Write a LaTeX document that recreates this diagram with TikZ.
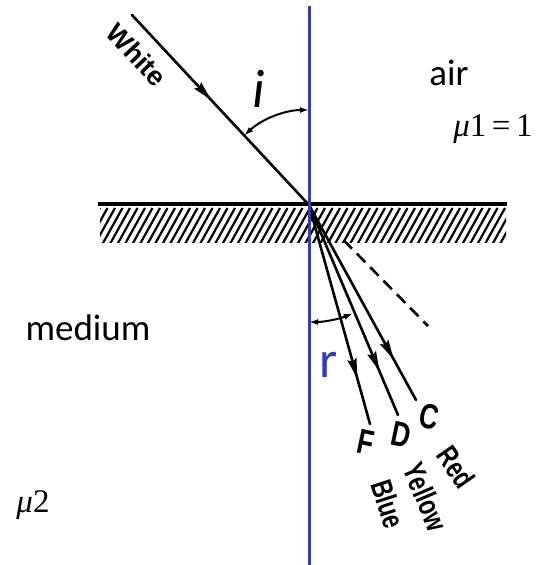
\documentclass[tikz,border=0pt]{standalone}
\usepackage{fontspec}
\setmainfont{Carlito}
\newfontfamily\raysfont{Liberation Sans}
\newfontfamily\tagsfont[FakeStretch=0.75]{Liberation Sans}
\newfontfamily\greekfont{Liberation Serif}
\usetikzlibrary{arrows.meta,calc,decorations.markings}
\definecolor{normalblue}{RGB}{50,60,190}
\tikzset{
  raystyle/.style={line width=2.6pt, line cap=round},
  midarrow/.style={postaction={decorate}, decoration={markings, mark=at position #1 with {\fill (7pt,0pt) -- (-13pt,4.8pt) -- (-10pt,0pt) -- (-13pt,-4.8pt) -- cycle;}}},
  anglearc/.style={line width=2pt, {Latex[length=9pt,width=6pt]}-{Latex[length=9pt,width=6pt]}},
  medlabel/.style={font=\fontsize{37}{40}\selectfont, inner sep=0pt},
  mathlabel/.style={font=\greekfont\fontsize{33}{36}\selectfont, inner sep=0pt},
  bigletter/.style={font=\fontsize{52}{56}\selectfont, inner sep=0pt},
  raytag/.style={font=\tagsfont\bfseries\fontsize{35}{38}\selectfont, inner sep=0pt},
  colourtag/.style={font=\tagsfont\bfseries\fontsize{30}{32}\selectfont, inner sep=0pt}
}

\begin{document}
\begin{tikzpicture}[x=1pt, y=-1pt]
  \useasboundingbox (0,0) rectangle (540,565);
  % points
  \coordinate (O) at (309,205);
  \coordinate (Wstart) at (132,15);
  \coordinate (Fend) at (370,424);
  \coordinate (Dend) at (398,415);
  \coordinate (Cend) at (416,400);
  \coordinate (Xend) at (428,326);
  \coordinate (surfL) at (98,204);
  \coordinate (surfR) at (507,204);
  \coordinate (normTop) at (309,6);
  \coordinate (normBot) at (309,565);

  % hatched surface
  \begin{scope}
    \clip (100,207) rectangle (506,242);
    \foreach \hx in {80,87.5,...,520}
      \draw[line width=2.2pt] (\hx,244) -- ++(20,-36);
  \end{scope}
  \draw[line width=3.5pt] (surfL) -- (surfR);

  % rays
  \draw[raystyle, midarrow=0.42] (Wstart) -- (O);
  \draw[raystyle, midarrow=0.76] (O) -- (Fend);
  \draw[raystyle, midarrow=0.76] (O) -- (Dend);
  \draw[raystyle, midarrow=0.76] (O) -- (Cend);
  \draw[raystyle, line cap=butt, dash pattern=on 12pt off 7pt] ($(O)!0.29!(Xend)$) -- (Xend);

  % angles
  \draw[anglearc] ([shift={(-133:95)}]O) arc[start angle=-133, end angle=-90, radius=95];
  \draw[anglearc] ([shift={(90:117)}]O) arc[start angle=90, end angle=68, radius=117];

  % normal
  \draw[normalblue, line width=3pt] (normTop) -- (normBot);

  % labels
  \node[colourtag, font=\raysfont\bfseries\fontsize{27}{30}\selectfont, rotate=-47] (white) at (137,55) {White};
  \node[bigletter, font=\itshape\fontsize{54}{56}\selectfont] (angI) at (259,89) {i};
  \node[bigletter, text=normalblue] (angR) at (329,365) {r};
  \node[raytag, rotate=-12] (tagF) at (366,442) {F};
  \node[raytag, rotate=-12] (tagD) at (401,435) {D};
  \node[raytag, rotate=-12] (tagC) at (429,417) {C};
  \node[colourtag, rotate=-55] (red) at (456,467) {Red};
  \node[colourtag, rotate=-67] (yellow) at (426,497) {Yellow};
  \node[colourtag, rotate=-72] (blue) at (388,504) {Blue};
  \node[medlabel] (air) at (449,73) {air};
  \node[mathlabel] (mu1) at (493,129) {{\itshape μ}1\,=\,1};
  \node[medlabel] (medium) at (88,328) {medium};
  \node[mathlabel] (mu2) at (33,505) {{\itshape μ}2};
\end{tikzpicture}
\end{document}
